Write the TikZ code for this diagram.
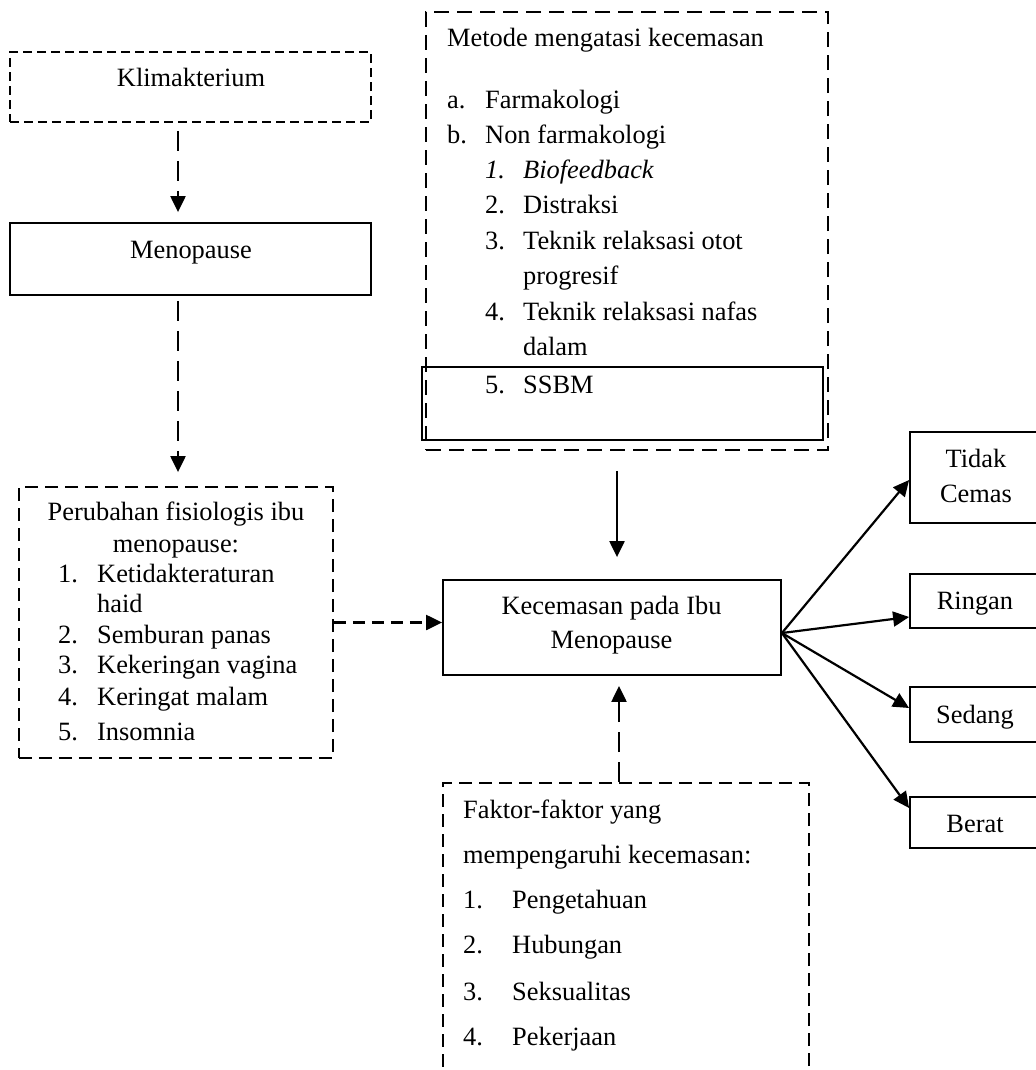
\documentclass[tikz,border=0pt]{standalone}
\usepackage{fontspec}
\setmainfont{Liberation Serif}
\usetikzlibrary{arrows.meta}
\begin{document}
\begin{tikzpicture}[x=1bp,y=-1bp,
  font=\fontsize{26.5}{32}\selectfont,
  box/.style={draw,line width=1.8bp,inner sep=0pt,rectangle},
  dbox/.style={box,dash pattern=on 13bp off 7bp},
  txt/.style={inner sep=0pt,anchor=base west},
  ctxt/.style={inner sep=0pt,anchor=base},
  tip/.style={-{Triangle[length=16bp,width=15bp]}},
  darrow/.style={tip,line width=2.2bp,dash pattern=on 20bp off 10bp},
  sarrow/.style={tip,line width=2.2bp}]
\clip (0,0) rectangle (1036,1070);
\useasboundingbox (0,0) rectangle (1036,1070);
\fill[white] (0,0) rectangle (1036,1070);

% boxes
\node[box,dash pattern=on 9bp off 5bp,minimum width=361bp,minimum height=70bp] (klim) at (190.5,87) {};
\node[box,minimum width=361bp,minimum height=72bp] (meno) at (190.5,259) {};
\node[dbox,minimum width=314bp,minimum height=271bp] (perub) at (176,622.5) {};
\node[dbox,dash pattern=on 15bp off 8bp,minimum width=402bp,minimum height=438bp] (metode) at (627,231) {};
\node[box,line width=2bp,minimum width=401bp,minimum height=73bp] (ssbm) at (622.5,403.5) {};
\node[box,minimum width=338bp,minimum height=95bp] (kec) at (612,627.5) {};
\node[dbox,minimum width=366bp,minimum height=297bp] (faktor) at (626,931.5) {};
\node[box,minimum width=132bp,minimum height=91bp] (tidak) at (976,477.5) {};
\node[box,minimum width=132bp,minimum height=54bp] (ringan) at (976,601) {};
\node[box,minimum width=132bp,minimum height=55bp] (sedang) at (976,714.5) {};
\node[box,minimum width=132bp,minimum height=51bp] (berat) at (976,822.5) {};

% texts
\node[ctxt] (tklim) at (191,86) {Klimakterium};
\node[ctxt] (tmeno) at (191,258) {Menopause};

\node[ctxt] (tp1) at (176,520) {Perubahan fisiologis ibu};
\node[ctxt] (tp2) at (176,552) {menopause:};
\node[txt] (tp3n) at (58,582) {1.};
\node[txt] (tp3) at (97,582) {Ketidakteraturan};
\node[txt] (tp4) at (97,612) {haid};
\node[txt] (tp5n) at (58,643) {2.};
\node[txt] (tp5) at (97,643) {Semburan panas};
\node[txt] (tp6n) at (58,673) {3.};
\node[txt] (tp6) at (97,673) {Kekeringan vagina};
\node[txt] (tp7n) at (58,705) {4.};
\node[txt] (tp7) at (97,705) {Keringat malam};
\node[txt] (tp8n) at (58,740) {5.};
\node[txt] (tp8) at (97,740) {Insomnia};

\node[txt] (tm0) at (447,46) {Metode mengatasi kecemasan};
\node[txt] (tm1n) at (447,108) {a.};
\node[txt] (tm1) at (485,108) {Farmakologi};
\node[txt] (tm2n) at (447,143) {b.};
\node[txt] (tm2) at (485,143) {Non farmakologi};
\node[txt] (tm3n) at (485,178) {\itshape 1.};
\node[txt] (tm3) at (523,178) {\itshape Biofeedback};
\node[txt] (tm4n) at (485,213) {2.};
\node[txt] (tm4) at (523,213) {Distraksi};
\node[txt] (tm5n) at (485,249) {3.};
\node[txt] (tm5) at (523,249) {Teknik relaksasi otot};
\node[txt] (tm6) at (523,284) {progresif};
\node[txt] (tm7n) at (485,320) {4.};
\node[txt] (tm7) at (523,320) {Teknik relaksasi nafas};
\node[txt] (tm8) at (523,355) {dalam};
\node[txt] (tm9n) at (485,393) {5.};
\node[txt] (tm9) at (523,393) {SSBM};

\node[ctxt] (tk1) at (611.5,614) {Kecemasan pada Ibu};
\node[ctxt] (tk2) at (611.5,648) {Menopause};

\node[ctxt] (tt1) at (976,467) {Tidak};
\node[ctxt] (tt2) at (976,502) {Cemas};
\node[ctxt] (tr) at (975,609) {Ringan};
\node[ctxt] (ts) at (975,723) {Sedang};
\node[ctxt] (tb) at (975,832) {Berat};

\node[txt] (tf1) at (463,818) {Faktor-faktor yang};
\node[txt] (tf2) at (463,863) {mempengaruhi kecemasan:};
\node[txt] (tf3n) at (463,908) {1.};
\node[txt] (tf3) at (512,908) {Pengetahuan};
\node[txt] (tf4n) at (463,953) {2.};
\node[txt] (tf4) at (512,953) {Hubungan};
\node[txt] (tf5n) at (463,1000) {3.};
\node[txt] (tf5) at (512,1000) {Seksualitas};
\node[txt] (tf6n) at (463,1045) {4.};
\node[txt] (tf6) at (512,1045) {Pekerjaan};

% connectors
\coordinate (xl) at (178,0);
\coordinate (xm) at (617,0);
\coordinate (xf) at (619,0);
\draw[darrow,shorten <=8bp,shorten >=10bp] (klim.south -| xl) -- (meno.north -| xl);
\draw[darrow,shorten <=5bp,shorten >=14bp] (meno.south -| xl) -- (perub.north -| xl);
\draw[tip,line width=2.2bp,dash pattern=on 12bp off 7bp] (perub.east) -- (perub.east -| kec.west);
\draw[sarrow,shorten <=20bp,shorten >=22bp] (metode.south -| xm) -- (kec.north -| xm);
\draw[darrow,shorten >=10bp] (faktor.north -| xf) -- (kec.south -| xf);
\coordinate (src) at ([yshift=-5.5bp]kec.east);
\draw[sarrow] (src) -- ([yshift=-2.5bp]tidak.west);
\draw[sarrow] (src) -- ([yshift=-16bp]ringan.west);
\draw[sarrow] (src) -- ([yshift=6.5bp]sedang.west);
\draw[sarrow] (src) -- ([yshift=14.5bp]berat.west);
\end{tikzpicture}
\end{document}
